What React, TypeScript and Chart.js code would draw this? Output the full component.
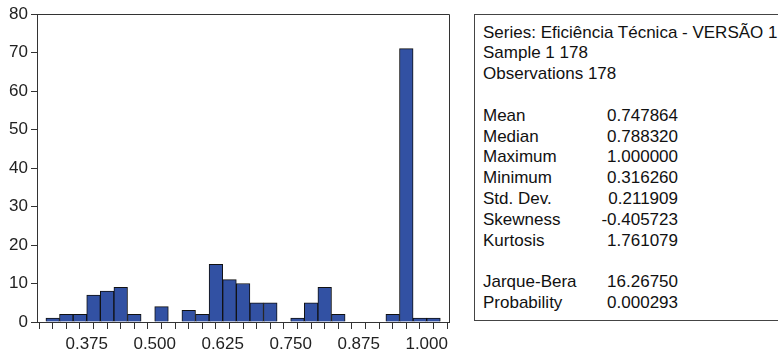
import React, { useEffect, useRef } from "react";
import { Chart, registerables } from "chart.js";

Chart.register(...registerables);

// Histogram bins (lower edge of each bin) and the counts in each bin
const BIN_WIDTH = 0.025;
const binStarts = [
  0.3, 0.325, 0.35, 0.375, 0.4, 0.425, 0.45, 0.475, 0.5, 0.525,
  0.55, 0.575, 0.6, 0.625, 0.65, 0.675, 0.7, 0.725, 0.75, 0.775,
  0.8, 0.825, 0.85, 0.875, 0.9, 0.925, 0.95, 0.975, 1.0,
];
const counts = [
  1, 2, 2, 7, 8, 9, 2, 0, 4, 0,
  3, 2, 15, 11, 10, 5, 5, 0, 1, 5,
  9, 2, 0, 0, 0, 2, 71, 1, 1,
];

const xTickLabels = ["0.375", "0.500", "0.625", "0.750", "0.875", "1.000"];
const X_MIN = 0.2836;
const X_MAX = 1.041;
const Y_MAX = 80;
const Y_STEP = 10;

// Descriptive statistics panel
const seriesLine = "Series: Eficiência Técnica - VERSÃO 1";
const sampleLine = "Sample 1 178";
const obsLine = "Observations 178";
const statLabels = ["Mean", "Median", "Maximum", "Minimum", "Std. Dev.", "Skewness", "Kurtosis"];
const statValues = ["0.747864", "0.788320", "1.000000", "0.316260", "0.211909", "-0.405723", "1.761079"];
const testLabels = ["Jarque-Bera", "Probability"];
const testValues = ["16.26750", "0.000293"];

const FONT = '"Liberation Sans", Arial, sans-serif';
const LINE_H = 20.8;

const framePlugin = {
  id: "frame",
  afterDraw(chart: any) {
    const { ctx, chartArea } = chart;
    ctx.save();
    ctx.strokeStyle = "#333";
    ctx.lineWidth = 1;
    ctx.beginPath();
    ctx.moveTo(Math.round(chartArea.left) + 0.5, Math.round(chartArea.top) + 0.5);
    ctx.lineTo(Math.round(chartArea.right) + 0.5, Math.round(chartArea.top) + 0.5);
    ctx.lineTo(Math.round(chartArea.right) + 0.5, Math.round(chartArea.bottom) + 0.5);
    ctx.stroke();
    ctx.restore();
  },
};

function Histogram() {
  const ref = useRef<HTMLCanvasElement | null>(null);

  useEffect(() => {
    if (!ref.current) return;
    const edges = [...binStarts, binStarts[binStarts.length - 1] + BIN_WIDTH];
    const chart = new Chart(ref.current, {
      type: "bar",
      data: {
        datasets: [
          {
            data: binStarts.map((s, i) => ({ x: s + BIN_WIDTH / 2, y: counts[i] })),
            backgroundColor: "#3251a3",
            borderColor: "#111",
            borderWidth: 1,
            barPercentage: 1,
            categoryPercentage: 1,
          },
        ],
      },
      options: {
        responsive: false,
        animation: false,
        devicePixelRatio: 1,
        layout: { padding: { left: 0, right: 11, top: 14, bottom: 0 } },
        plugins: { legend: { display: false }, tooltip: { enabled: false } },
        scales: {
          x: {
            type: "linear",
            offset: false,
            min: X_MIN,
            max: X_MAX,
            afterBuildTicks: (scale: any) => {
              scale.ticks = edges.map((v) => ({ value: v }));
            },
            afterFit: (scale: any) => {
              scale.height = 33;
            },
            ticks: {
              autoSkip: false,
              maxRotation: 0,
              padding: 5,
              color: "#222",
              font: { family: FONT, size: 17 },
              callback: (value: any) => {
                const hit = xTickLabels.find((l) => Math.abs(parseFloat(l) - Number(value)) < 1e-6);
                return hit ?? "";
              },
            },
            grid: { drawOnChartArea: false, drawTicks: true, tickLength: 7, color: "#333" },
            border: { display: true, color: "#333" },
          },
          y: {
            min: 0,
            max: Y_MAX,
            afterFit: (scale: any) => {
              scale.width = 37;
            },
            ticks: {
              stepSize: Y_STEP,
              padding: 3,
              color: "#222",
              font: { family: FONT, size: 17 },
            },
            grid: { drawOnChartArea: false, drawTicks: true, tickLength: 6, color: "#333" },
            border: { display: true, color: "#333" },
          },
        },
      },
      plugins: [framePlugin],
    } as any);
    return () => chart.destroy();
  }, []);

  return <canvas ref={ref} width={460} height={355} style={{ position: "absolute", left: 0, top: 0 }} />;
}

function StatsPanel() {
  const row = (label: string, value: string, key: string) => (
    <div key={key} style={{ position: "relative", height: LINE_H }}>
      <span>{label}</span>
      <span style={{ position: "absolute", right: 105, top: 0 }}>{value}</span>
    </div>
  );
  return (
    <div
      style={{
        position: "absolute",
        left: 474,
        top: 14,
        width: 310,
        height: 307,
        border: "1px solid #444",
        boxSizing: "border-box",
        paddingLeft: 8,
        paddingTop: 7.6,
        fontFamily: FONT,
        fontSize: 17,
        lineHeight: `${LINE_H}px`,
        color: "#111",
        whiteSpace: "nowrap",
      }}
    >
      <div style={{ height: LINE_H }}>{seriesLine}</div>
      <div style={{ height: LINE_H }}>{sampleLine}</div>
      <div style={{ height: LINE_H }}>{obsLine}</div>
      <div style={{ height: LINE_H }} />
      {statLabels.map((l, i) => row(l, statValues[i], "s" + i))}
      <div style={{ height: LINE_H }} />
      {testLabels.map((l, i) => row(l, testValues[i], "t" + i))}
    </div>
  );
}

export default function App() {
  return (
    <div
      style={{
        position: "fixed",
        left: 0,
        top: 0,
        width: 778,
        height: 355,
        background: "#fff",
        overflow: "hidden",
      }}
    >
      <Histogram />
      <StatsPanel />
    </div>
  );
}
